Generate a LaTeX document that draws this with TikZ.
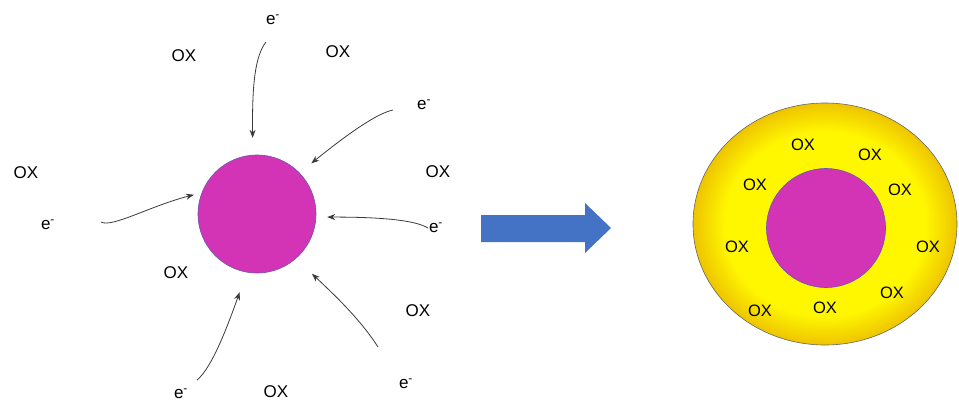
\documentclass[tikz,border=0pt]{standalone}
\usepackage{fontspec}
\setmainfont{Liberation Sans}
\usetikzlibrary{shapes.geometric,arrows.meta}
\definecolor{coremag}{HTML}{D334B6}
\definecolor{coreedge}{HTML}{6A55B5}
\definecolor{shellyel}{HTML}{FFF700}
\definecolor{shellgold}{HTML}{EEC400}
\definecolor{arrowblue}{HTML}{4472C4}
\definecolor{linegray}{HTML}{3A3A3A}
\pgfdeclareradialshading{yellowglow}{\pgfpoint{0bp}{0bp}}{color(0bp)=(shellyel); color(19bp)=(shellyel); color(25bp)=(shellgold); color(50bp)=(shellgold)}
\tikzset{
  lbl/.style={font=\fontsize{17}{19}\selectfont, inner sep=0pt},
  inlbl/.style={font=\fontsize{16.5}{18}\selectfont, inner sep=0pt},
  elec/.style={font=\fontsize{17}{19}\selectfont, inner sep=0pt},
  flow/.style={draw=linegray, line width=0.8pt, -{Stealth[length=8pt,width=6pt]}},
  core/.style={circle, inner sep=0pt, fill=coremag, draw=coreedge, line width=0.6pt}
}
\begin{document}
\begin{tikzpicture}[x=1pt,y=-1pt]
\useasboundingbox (0,0) rectangle (959,405);
% left particle
\node[core, minimum size=118pt] (c) at (257,214) {};
% electrons
\node[elec] (e1) at (273,20) {e\textsuperscript{-}};
\node[elec] (e2) at (424,105) {e\textsuperscript{-}};
\node[elec] (e3) at (48,225) {e\textsuperscript{-}};
\node[elec] (e4) at (436,228) {e\textsuperscript{-}};
\node[elec] (e5) at (181,394) {e\textsuperscript{-}};
\node[elec] (e6) at (406,384) {e\textsuperscript{-}};
\coordinate (s1) at (266,42);
\coordinate (s2) at (393,110);
\coordinate (s3) at (101,222);
\coordinate (s4) at (428,228);
\coordinate (s5) at (197,380);
\coordinate (s6) at (378,347);
\draw[flow, shorten >=17pt] (s1) .. controls (255,56) and (252,85) .. (c.94);
\draw[flow, shorten >=15pt] (s2) .. controls (378,113) and (350,132) .. (c.44.5);
\draw[flow, shorten >=8pt] (s3) .. controls (112,228) and (150,206) .. (c.159);
\draw[flow, shorten >=11pt] (s4) .. controls (415,220) and (380,217) .. (c.-3);
\draw[flow, shorten >=21pt] (s5) .. controls (212,368) and (228,325) .. (c.260);
\draw[flow, shorten >=22pt] (s6) .. controls (362,322) and (340,300) .. (c.-49);
% OX labels left
\node[lbl] (o1) at (184,56) {OX};
\node[lbl] (o2) at (338,52) {OX};
\node[lbl] (o3) at (26,173) {OX};
\node[lbl] (o4) at (438,172) {OX};
\node[lbl] (o5) at (176,273) {OX};
\node[lbl] (o6) at (418,311) {OX};
\node[lbl] (o7) at (276,392) {OX};
% blue arrow
\fill[arrowblue] (481,215) -- (585,215) -- (585,203) -- (611,228) -- (585,253) -- (585,242) -- (481,242) -- cycle;
% right particle with shell
\node[ellipse, minimum width=264pt, minimum height=242pt, inner sep=0pt, shading=yellowglow, draw=gray!80!black, line width=0.6pt] (shell) at (825,224) {};
\node[core, minimum size=119pt] (c2) at (826,228) {};
\node[inlbl] (i1) at (803,145) {OX};
\node[inlbl] (i2) at (870,155) {OX};
\node[inlbl] (i3) at (755,185) {OX};
\node[inlbl] (i4) at (900,190) {OX};
\node[inlbl] (i5) at (737,247) {OX};
\node[inlbl] (i6) at (928,247) {OX};
\node[inlbl] (i7) at (892,293) {OX};
\node[inlbl] (i8) at (825,308) {OX};
\node[inlbl] (i9) at (760,311) {OX};
\end{tikzpicture}
\end{document}
